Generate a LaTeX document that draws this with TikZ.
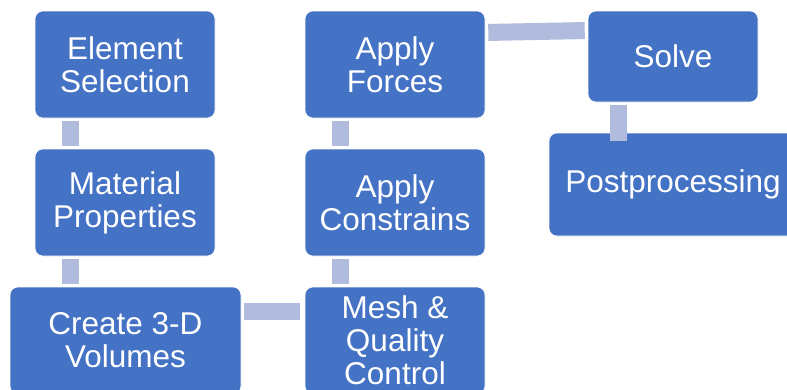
\documentclass[tikz,border=0pt]{standalone}
\usepackage{fontspec}
\setmainfont{Liberation Sans}
\definecolor{boxblue}{HTML}{4472C4}
\definecolor{linkblue}{HTML}{B0BBDD}
\begin{document}
\begin{tikzpicture}[x=1pt,y=1pt,
        stage/.style={fill=boxblue,draw=white,line width=0.6pt,rounded corners=8pt,
            text=white,align=center,inner sep=0pt,
            font=\fontsize{31.5}{33}\selectfont},
        link/.style={draw=linkblue,line width=17pt,shorten <=3pt,shorten >=3pt}]
        \clip (0,0) rectangle (787,-389);
        \useasboundingbox (0,0) rectangle (787,-389);

        % Draw the left column of steps
        \node[stage,minimum width=180,minimum height=107] (elem) at (125,-64.5) {Element\\Selection};
        \node[stage,minimum width=180,minimum height=107] (mat) at (125,-202.5) {Material\\Properties};
        \node[stage,minimum width=231,minimum height=107] (vol) at (125.5,-340.5) {Create 3-D\\Volumes};

        % Draw the middle column of steps
        \node[stage,minimum width=180,minimum height=107] (mesh) at (395,-340.5) {Mesh \&\\Quality\\Control};
        \node[stage,minimum width=180,minimum height=107] (cons) at (395,-202.5) {Apply\\Constrains};
        \node[stage,minimum width=180,minimum height=107] (forces) at (395,-64.5) {Apply\\Forces};

        % Draw the solve and postprocessing steps
        \node[stage,minimum width=170,minimum height=91] (solve) at (673,-56.5) {Solve};
        \node[stage,minimum width=248,minimum height=103] (post) at (673,-184.5) {Postprocessing};

        % Draw the links between the steps
        \draw[link] ([xshift=-54.5]elem.south) -- ([xshift=-54.5]mat.north);
        \draw[link] ([xshift=-54.5]mat.south) -- ([xshift=-55]vol.north);
        \draw[link,shorten >=5pt] ([yshift=29.5]vol.east) -- ([yshift=29.5]mesh.west);
        \draw[link] ([xshift=-54.5]mesh.north) -- ([xshift=-54.5]cons.south);
        \draw[link] ([xshift=-54.5]cons.north) -- ([xshift=-54.5]forces.south);
        \draw[link] ([yshift=32]forces.east) -- ([yshift=26]solve.west);
        \draw[link] ([xshift=-54.5]solve.south) -- ([xshift=-54.5,yshift=-11.5]post.north);
\end{tikzpicture}
\end{document}
